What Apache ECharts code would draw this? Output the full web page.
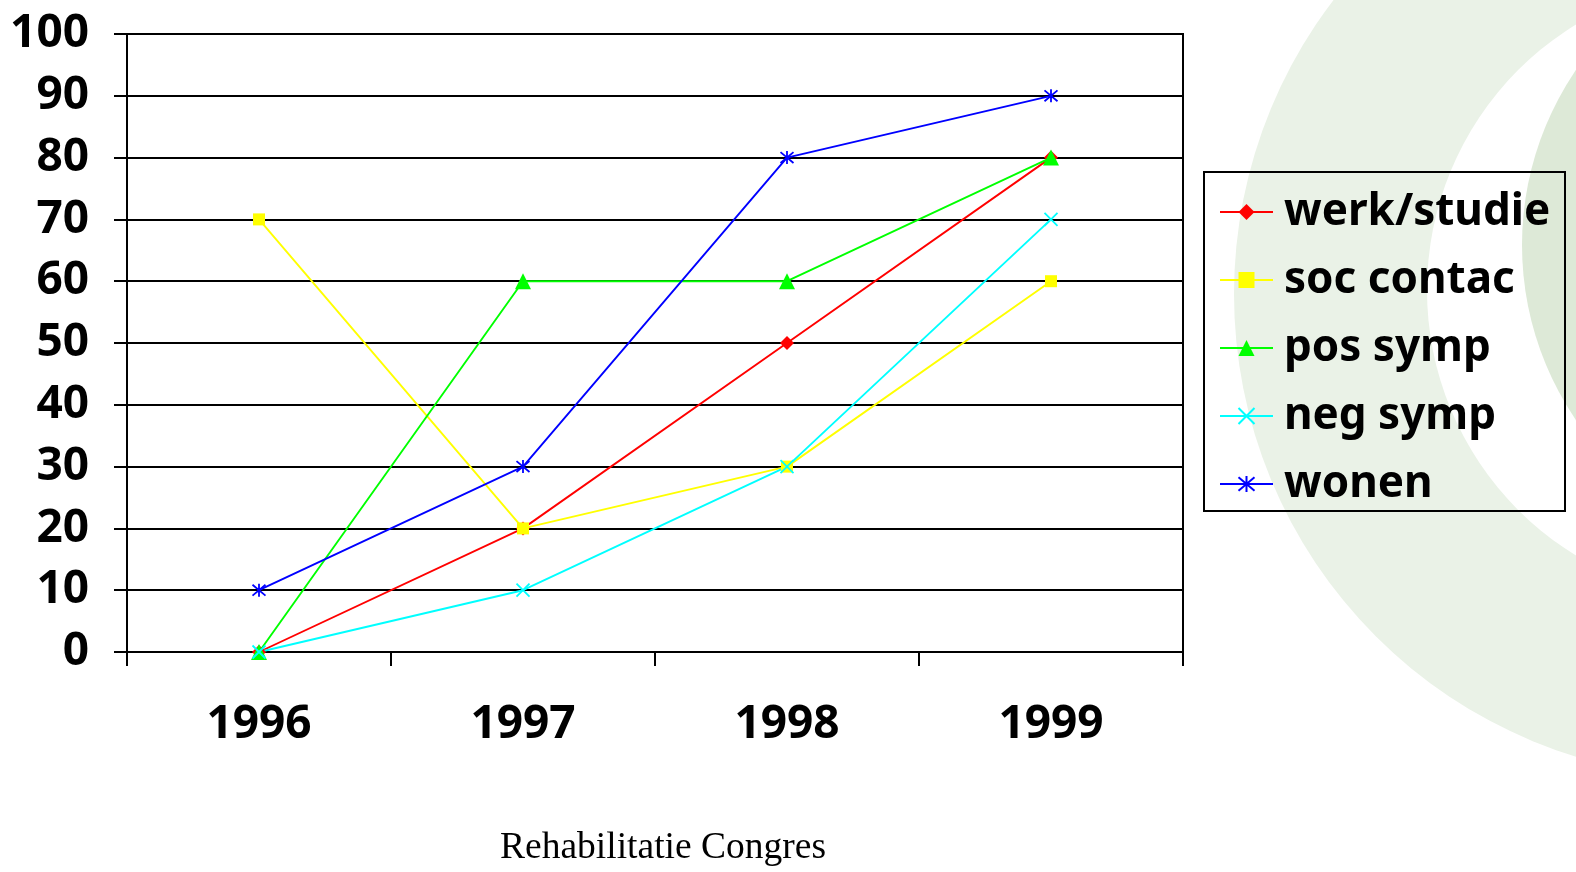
<!DOCTYPE html>
<html>
<head>
<meta charset="utf-8">
<script src="https://cdn.jsdelivr.net/npm/echarts@6/dist/echarts.min.js"></script>
<style>
html,body{margin:0;padding:0;background:#fff;}
#chart{width:1576px;height:872px;}
</style>
</head>
<body>
<div id="chart"></div>
<script>
const categories = ['1996', '1997', '1998', '1999'];
const werkStudie = [0, 20, 50, 80];
const socContac = [70, 20, 30, 60];
const posSymp = [0, 60, 60, 80];
const negSymp = [0, 10, 30, 70];
const wonen = [10, 30, 80, 90];
const seriesNames = ['werk/studie', 'soc contac', 'pos symp', 'neg symp', 'wonen'];
const yMin = 0, yMax = 100, yStep = 10;
const footerText = 'Rehabilitatie Congres';

const FONT = "'Noto Sans', sans-serif";
const chart = echarts.init(document.getElementById('chart'));

function lineSeries(name, data, color, symbol, size, stroke) {
  return {
    name: name,
    type: 'line',
    data: data,
    symbol: symbol,
    symbolSize: size,
    showSymbol: true,
    lineStyle: { color: color, width: 1.9 },
    itemStyle: stroke ? { color: color, borderColor: color, borderWidth: 1.8 } : { color: color, borderWidth: 0 },
    emphasis: { disabled: true }
  };
}

const option = {
  animation: false,
  backgroundColor: '#ffffff',
  graphic: [
    { type: 'circle', z: -10, silent: true, shape: { cx: 1718, cy: 294, r: 484 }, style: { fill: 'rgb(234,242,231)' } },
    { type: 'circle', z: -9, silent: true, shape: { cx: 1738, cy: 290, r: 311 }, style: { fill: '#ffffff' } },
    { type: 'circle', z: -8, silent: true, shape: { cx: 1833, cy: 245, r: 311 }, style: { fill: 'rgb(221,233,215)' } },
    { type: 'rect', z: 10, silent: true, shape: { x: 1204, y: 172, width: 361, height: 339 }, style: { fill: 'none', stroke: '#000', lineWidth: 2 } },
    { type: 'text', z: 10, silent: true, style: { text: footerText, x: 663, y: 848, align: 'center', verticalAlign: 'middle', fontSize: 37.5, fontFamily: "'Liberation Serif', serif", fill: '#000' } }
  ],
  grid: { left: 127, right: 393, top: 34, bottom: 220, show: true, borderColor: '#000', borderWidth: 2, backgroundColor: 'transparent', containLabel: false },
  legend: {
    data: seriesNames,
    orient: 'vertical',
    left: 1219,
    top: 190,
    padding: 0,
    itemWidth: 53,
    itemHeight: 20,
    itemGap: 24,
    lineStyle: { width: 2 },
    textStyle: { fontFamily: FONT, fontWeight: 'bold', fontSize: 44, color: '#000', lineHeight: 44, padding: [0, 0, 0, 6] }
  },
  xAxis: {
    type: 'category',
    data: categories,
    boundaryGap: true,
    axisLine: { show: true, lineStyle: { color: '#000', width: 2 } },
    axisTick: { show: true, length: 14, interval: 0, lineStyle: { color: '#000', width: 2 } },
    axisLabel: { margin: 50, fontFamily: FONT, fontWeight: 'bold', fontSize: 46, color: '#000' },
    splitLine: { show: false }
  },
  yAxis: {
    type: 'value',
    min: yMin,
    max: yMax,
    interval: yStep,
    axisLine: { show: true, lineStyle: { color: '#000', width: 2 } },
    axisTick: { show: true, length: 13, lineStyle: { color: '#000', width: 2 } },
    axisLabel: { margin: 38, fontFamily: FONT, fontWeight: 'bold', fontSize: 46, color: '#000' },
    splitLine: { show: true, lineStyle: { color: '#000', width: 2 } }
  },
  series: [
    lineSeries(seriesNames[0], werkStudie, '#ff0000', 'diamond', 14, false),
    lineSeries(seriesNames[1], socContac, '#ffff00', 'rect', 12, false),
    lineSeries(seriesNames[2], posSymp, '#00ff00', 'triangle', 16, false),
    lineSeries(seriesNames[3], negSymp, '#00ffff', 'path://M0,0L10,10M10,0L0,10', 13, true),
    lineSeries(seriesNames[4], wonen, '#0000ff', 'path://M0,0L10,10M10,0L0,10M5,-1L5,11', 13, true)
  ]
};
chart.setOption(option);
</script>
</body>
</html>
